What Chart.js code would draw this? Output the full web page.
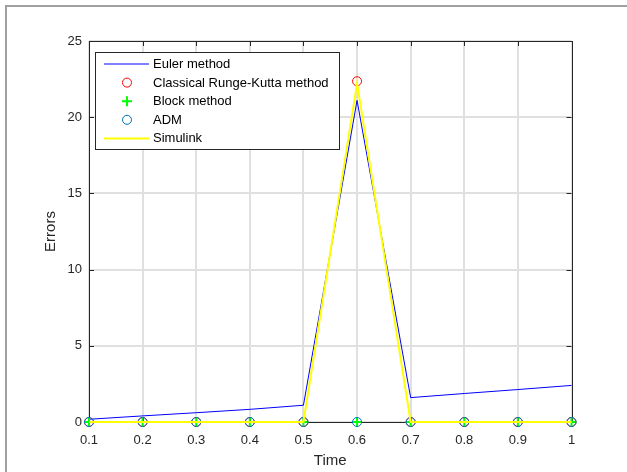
<!DOCTYPE html>
<html>
<head>
<meta charset="utf-8">
<title>Errors vs Time</title>
<script src="https://cdn.jsdelivr.net/npm/chart.js@4.4.1/dist/chart.umd.min.js"></script>
<style>
  html, body { margin: 0; padding: 0; background: #fff; overflow: hidden; }
  #wrap { position: relative; width: 627px; height: 472px; }
  #frame {
    position: absolute; left: 5px; top: 5px; width: 1000px; height: 1000px;
    border-left: 2px solid #a0a0a0; border-top: 2px solid #a0a0a0;
  }
  #errChart { position: absolute; left: 0; top: 0; }
</style>
</head>
<body>
<div id="wrap">
  <div id="frame"></div>
  <canvas id="errChart" width="627" height="472"></canvas>
</div>
<script>
// Chart data
const timePoints = [0.1, 0.2, 0.3, 0.4, 0.5, 0.6, 0.7, 0.8, 0.9, 1];
const eulerErrors = [0.18, 0.40, 0.61, 0.83, 1.10, 21.1, 1.60, 1.87, 2.13, 2.40];
const rkErrors = [0, 0, 0, 0, 0, 22.36, 0, 0, 0, 0];
const blockErrors = [0, 0, 0, 0, 0, 0, 0, 0, 0, 0];
const admErrors = [0, 0, 0, 0, 0, 0, 0, 0, 0, 0];
const simulinkErrors = [0, 0, 0, 0, 0, 22.2, 0, 0, 0, 0];
const xTickLabels = ["0.1", "0.2", "0.3", "0.4", "0.5", "0.6", "0.7", "0.8", "0.9", "1"];
const yTickValues = [0, 5, 10, 15, 20, 25];

const axisColor = "#262626";
const gridColor = "#e0e0e0";

Chart.defaults.font.family = "'Liberation Sans', Arial, Helvetica, sans-serif";
Chart.defaults.color = axisColor;

function toPoints(values) {
  return timePoints.map((t, i) => ({ x: t, y: values[i] }));
}

// Box + inward tick marks, drawn under the data like MATLAB does
const axesBoxPlugin = {
  id: "axesBox",
  beforeDatasetsDraw(chart) {
    const { ctx, chartArea: a, scales } = chart;
    const tick = 5;
    ctx.save();
    ctx.strokeStyle = axisColor;
    ctx.lineWidth = 1;
    ctx.beginPath();
    timePoints.forEach(t => {
      const x = Math.round(scales.x.getPixelForValue(t)) + 0.5;
      ctx.moveTo(x, a.bottom); ctx.lineTo(x, a.bottom - tick);
      ctx.moveTo(x, a.top); ctx.lineTo(x, a.top + tick);
    });
    yTickValues.forEach(v => {
      const y = Math.round(scales.y.getPixelForValue(v)) + 0.5;
      ctx.moveTo(a.left, y); ctx.lineTo(a.left + tick, y);
      ctx.moveTo(a.right, y); ctx.lineTo(a.right - tick, y);
    });
    ctx.stroke();
    ctx.strokeRect(Math.round(a.left) + 0.5, Math.round(a.top) + 0.5,
      Math.round(a.right - a.left), Math.round(a.bottom - a.top));
    ctx.restore();
  }
};

// Legend box inside the axes (upper left)
const innerLegendPlugin = {
  id: "innerLegend",
  afterDraw(chart) {
    const { ctx } = chart;
    const box = { x: 95.5, y: 52.5, w: 244, h: 97 };
    const rowStart = 64, rowGap = 18.6;
    ctx.save();
    ctx.fillStyle = "#ffffff";
    ctx.fillRect(box.x, box.y, box.w, box.h);
    ctx.strokeStyle = axisColor;
    ctx.lineWidth = 1;
    ctx.strokeRect(box.x, box.y, box.w, box.h);
    ctx.font = "13px 'Liberation Sans', Arial, sans-serif";
    ctx.textBaseline = "middle";
    ctx.textAlign = "left";
    chart.data.datasets.forEach((ds, i) => {
      const y = rowStart + i * rowGap;
      if (ds.showLine !== false) {
        ctx.strokeStyle = ds.borderColor;
        ctx.lineWidth = ds.borderWidth;
        ctx.beginPath();
        ctx.moveTo(104, y);
        ctx.lineTo(149, y);
        ctx.stroke();
      } else {
        ctx.strokeStyle = ds.pointBorderColor;
        ctx.fillStyle = "rgba(0,0,0,0)";
        ctx.lineWidth = ds.pointBorderWidth;
        Chart.helpers.drawPoint(ctx, {
          pointStyle: ds.pointStyle, radius: ds.pointRadius,
          rotation: 0, borderWidth: ds.pointBorderWidth
        }, 127, y);
      }
      ctx.fillStyle = "#000000";
      ctx.fillText(ds.label, 153, y + 0.5);
    });
    ctx.restore();
  }
};

const markerDefaults = {
  showLine: false,
  backgroundColor: "rgba(0,0,0,0)",
  pointBackgroundColor: "rgba(0,0,0,0)",
  pointHoverRadius: 4,
  clip: false
};

new Chart(document.getElementById("errChart"), {
  type: "line",
  data: {
    datasets: [
      {
        label: "Euler method",
        data: toPoints(eulerErrors),
        borderColor: "#0000ff",
        borderWidth: 1,
        pointRadius: 0,
        tension: 0,
        clip: false,
        order: 5
      },
      Object.assign({}, markerDefaults, {
        label: "Classical Runge-Kutta method",
        data: toPoints(rkErrors),
        borderColor: "#ff0000",
        pointBorderColor: "#ff0000",
        pointStyle: "circle",
        pointRadius: 4.5,
        pointBorderWidth: 1,
        order: 4
      }),
      Object.assign({}, markerDefaults, {
        label: "Block method",
        data: toPoints(blockErrors),
        borderColor: "#00ff00",
        pointBorderColor: "#00ff00",
        pointStyle: "cross",
        pointRadius: 5,
        pointBorderWidth: 2,
        order: 3
      }),
      Object.assign({}, markerDefaults, {
        label: "ADM",
        data: toPoints(admErrors),
        borderColor: "#0072bd",
        pointBorderColor: "#0072bd",
        pointStyle: "circle",
        pointRadius: 4.5,
        pointBorderWidth: 1,
        order: 2
      }),
      {
        label: "Simulink",
        data: toPoints(simulinkErrors),
        borderColor: "#ffff00",
        borderWidth: 2,
        pointRadius: 0,
        tension: 0,
        clip: false,
        order: 1
      }
    ]
  },
  options: {
    responsive: false,
    devicePixelRatio: 1,
    animation: false,
    events: [],
    layout: { padding: { left: 0, top: 41, right: 55.5, bottom: 0 } },
    plugins: {
      legend: { display: false },
      tooltip: { enabled: false }
    },
    scales: {
      x: {
        type: "linear",
        min: 0.1,
        max: 1,
        afterBuildTicks: scale => { scale.ticks = timePoints.map(v => ({ value: v })); },
        afterFit: scale => { scale.height = 50; },
        ticks: {
          autoSkip: false,
          maxRotation: 0,
          padding: 11,
          color: axisColor,
          font: { size: 13 },
          callback: (value, index) => xTickLabels[index]
        },
        grid: { color: gridColor, lineWidth: 2, drawTicks: false },
        border: { display: false },
        title: {
          display: true,
          text: "Time",
          color: axisColor,
          font: { size: 15 },
          padding: { top: 0, bottom: 2 }
        }
      },
      y: {
        min: 0,
        max: 25,
        afterBuildTicks: scale => { scale.ticks = yTickValues.map(v => ({ value: v })); },
        afterFit: scale => { scale.width = 89; },
        ticks: {
          padding: 7,
          color: axisColor,
          font: { size: 13 }
        },
        grid: { color: gridColor, lineWidth: 2, drawTicks: false },
        border: { display: false },
        title: {
          display: true,
          text: "Errors",
          color: axisColor,
          font: { size: 15 },
          padding: { top: 42, bottom: 0 }
        }
      }
    }
  },
  plugins: [axesBoxPlugin, innerLegendPlugin]
});
</script>
</body>
</html>
